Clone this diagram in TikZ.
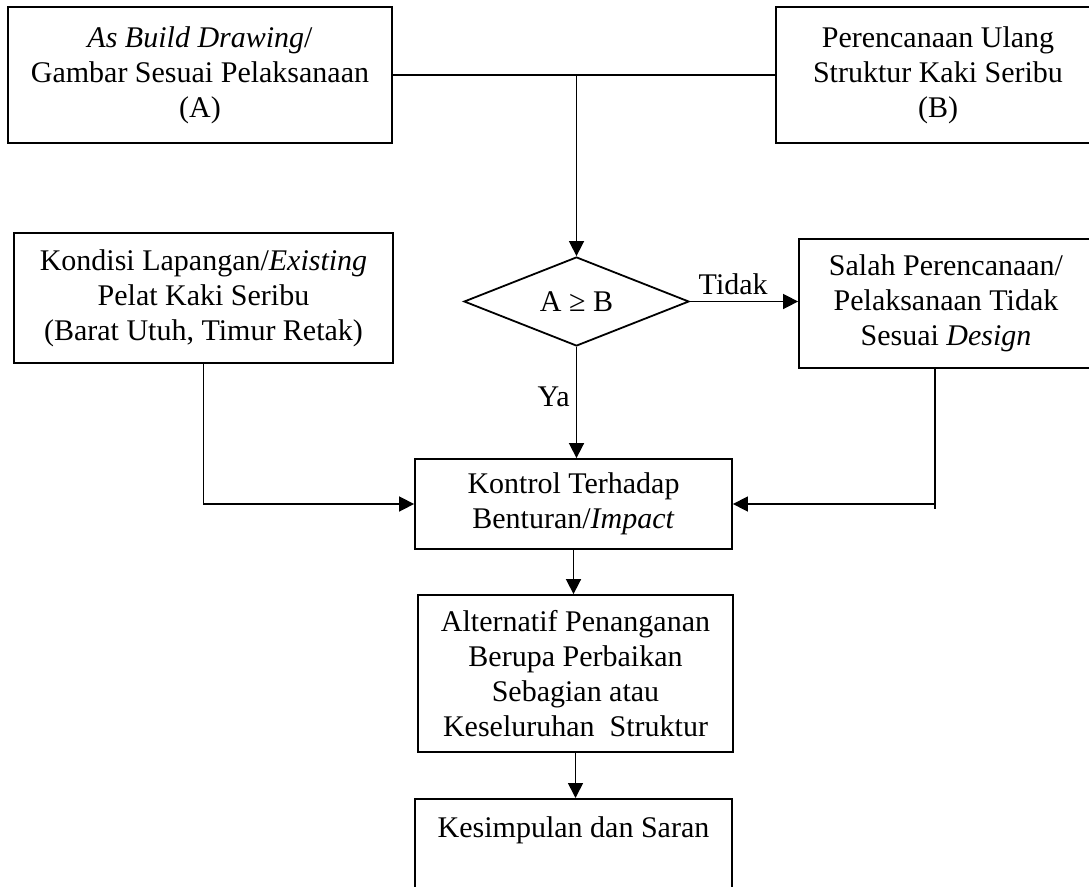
\documentclass[tikz,border=0pt]{standalone}
\usepackage{fontspec}
\setmainfont{Liberation Serif}
\usetikzlibrary{shapes.geometric,arrows.meta}
\tikzset{
  kotak/.style={draw,line width=1.8pt,align=center,inner sep=0pt,font=\fontsize{30}{35}\selectfont},
  keputusan/.style={draw,diamond,line width=1.8pt,inner sep=0pt,aspect=2.5,minimum width=225pt,minimum height=89pt,font=\fontsize{30}{35}\selectfont},
  panah/.style={-{Triangle[length=15pt,width=15pt]}},
  label/.style={font=\fontsize{30}{35}\selectfont,inner sep=6pt}
}
\begin{document}
\begin{tikzpicture}[x=1pt,y=-1pt,line width=1.6pt]
	\useasboundingbox (0,0) rectangle (1089,886);
	\clip (0,0) rectangle (1089,886);
	% kotak atas
	\node[kotak,minimum width=384pt,minimum height=136pt] (gambarA) at (200,75) {\textit{As Build Drawing}/\\Gambar Sesuai Pelaksanaan\\(A)};
	\node[kotak,minimum width=324pt,minimum height=136pt] (rencanaB) at (938,75) {Perencanaan Ulang\\Struktur Kaki Seribu\\(B)};
	% baris tengah
	\node[kotak,minimum width=379pt,minimum height=130pt] (kondisi) at (203.5,298) {Kondisi Lapangan/\textit{Existing}\\Pelat Kaki Seribu\\(Barat Utuh, Timur Retak)};
	\node[keputusan] (cek) at (576.5,301.5) {A ≥ B};
	\node[kotak,minimum width=294pt,minimum height=129pt] (salah) at (946,303.5) {Salah Perencanaan/\\Pelaksanaan Tidak\\Sesuai \textit{Design}};
	% kolom bawah
	\node[kotak,minimum width=317pt,minimum height=90pt] (kontrol) at (573.5,504) {Kontrol Terhadap\\Benturan/\textit{Impact}};
	\node[kotak,minimum width=315pt,minimum height=157pt] (alternatif) at (575.5,673.5) {Alternatif Penanganan\\Berupa Perbaikan\\Sebagian atau\\Keseluruhan~ Struktur};
	\node[kotak,anchor=north,minimum width=317pt,text height=39pt,text depth=81pt] (simpulan) at (573.5,798) {Kesimpulan dan Saran};
	% penghubung
	\draw (gambarA.east) -- (rencanaB.west);
	\coordinate (jAB) at (cek.north |- gambarA.east);
	\draw[panah] (jAB) -- (cek.north);
	\draw[panah] (cek.east) -- (cek.east -| salah.west) node[label,above,pos=0.4] {Tidak};
	\draw[panah] (cek.south) -- (cek.south |- kontrol.north) node[label,left,pos=0.45] {Ya};
	\draw[panah] (kondisi.south) |- (kontrol.west);
	\coordinate (salahB) at ([xshift=-11pt]salah.south);
	\draw (salahB) -- ([yshift=-5pt]salahB |- kontrol.east);
	\draw[panah] (salahB |- kontrol.east) -- (kontrol.east);
	\draw[panah] (kontrol.south) -- (kontrol.south |- alternatif.north);
	\draw[panah] (alternatif.south) -- (alternatif.south |- simpulan.north);
\end{tikzpicture}
\end{document}
